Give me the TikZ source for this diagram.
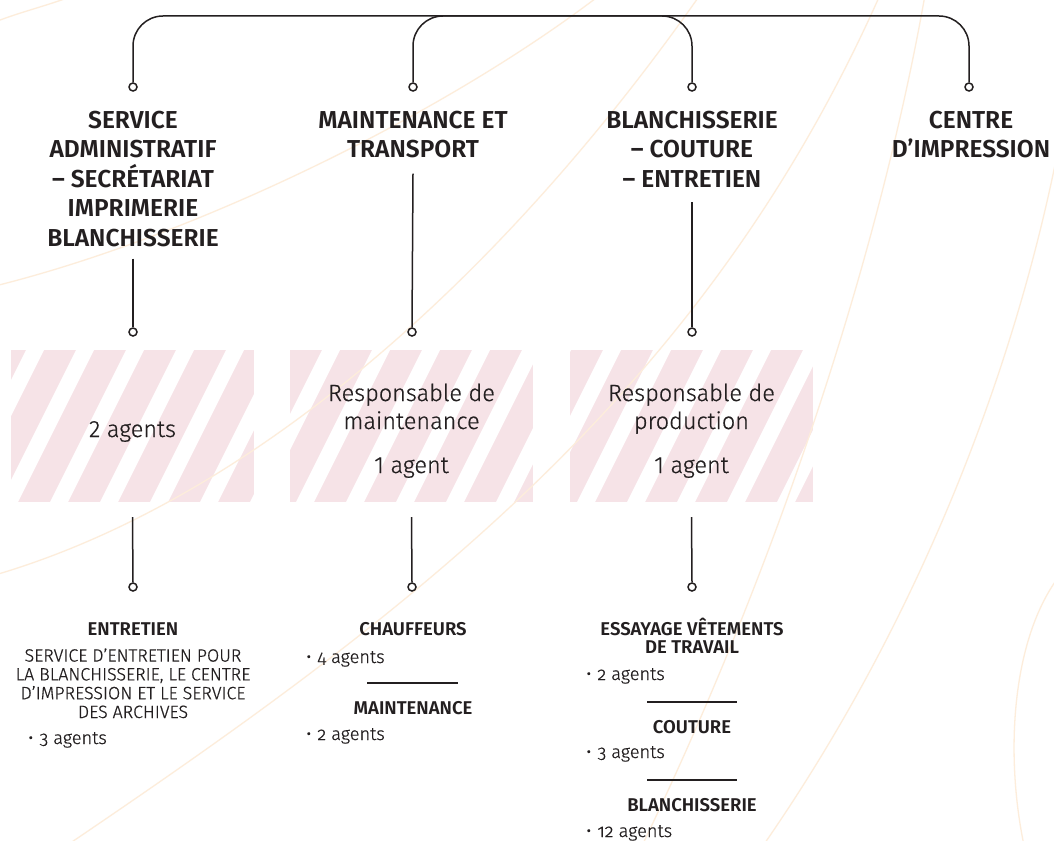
\documentclass[tikz,border=0pt]{standalone}
\usepackage{fontspec}
\setmainfont{Fira Sans}
\newfontfamily\lightf{Fira Sans Light}[FakeBold=0.6]
\newfontfamily\lightold{Fira Sans Light}[Numbers=OldStyle,FakeBold=0.6]
\newfontfamily\semib{Fira Sans SemiBold}
\usetikzlibrary{calc}
\definecolor{ink}{RGB}{35,31,32}
\definecolor{hatchpink}{RGB}{246,227,231}
\definecolor{peach}{RGB}{253,237,219}
\begin{document}
\begin{tikzpicture}[x=1pt,y=-1pt,
  conn/.style={draw=ink, line width=1.5pt},
  dot/.style={circle, draw=ink, fill=white, line width=1.5pt, minimum size=8pt, inner sep=0pt},
  ttl/.style={font=\semib\fontsize{24.5}{29.5}\selectfont, text=ink, align=center, inner sep=0pt, anchor=base},
  hbox/.style={minimum width=243pt, minimum height=152pt, inner sep=0pt, fill=hatchpink,
    path picture={\foreach \k in {-1,...,7}{\fill[white] ([xshift={(#1+\k*50)*1pt}]path picture bounding box.north west) -- ++(18,0) -- ++(-76,152) -- ++(-18,0) -- cycle;}}},
  boxtxt/.style={font=\lightf\fontsize{23.5}{28}\selectfont, text=ink, align=center, inner sep=0pt, anchor=base},
  subhead/.style={font=\semib\fontsize{18.5}{18}\selectfont, text=ink, align=center, inner sep=0pt, anchor=base},
  subbody/.style={font=\lightf\fontsize{17.8}{18.8}\selectfont, text=ink, align=center, inner sep=0pt, anchor=base},
  itm/.style={font=\lightold\fontsize{18.2}{20}\selectfont, text=ink, inner sep=0pt, anchor=base west},
  sep/.style={draw=ink, line width=2.6pt},
  bgline/.style={draw=peach, line width=1.3pt}
]
\useasboundingbox (0,0) rectangle (1054,840);
\fill[white] (0,0) rectangle (1054,840);

% hatched boxes
\node[hbox=15] (b1) at (132.5,426) {};
\node[hbox=32] (b2) at (411.5,426) {};
\node[hbox=33] (b3) at (691.5,426) {};

% faint background curves
\draw[bgline] (-5,22) .. controls (20,12) and (50,5) .. (75,-5);
\draw[bgline] (-5,286) .. controls (200,235) and (450,110) .. (600,-5);
\draw[bgline] (-5,575) .. controls (250,500) and (500,280) .. (700,-5);
\draw[bgline] (60,850) .. controls (400,620) and (700,400) .. (880,-5);
\draw[bgline] (640,850) .. controls (780,560) and (880,250) .. (925,-5);
\draw[bgline] (760,850) .. controls (900,650) and (1010,400) .. (1060,140);
\draw[bgline] (1060,575) .. controls (1010,640) and (1005,760) .. (1025,850);

% circles
\node[dot] (c1t) at (133,87) {};
\node[dot] (c2t) at (413,87) {};
\node[dot] (c3t) at (692,87) {};
\node[dot] (c4t) at (969,87) {};
\node[dot] (c1m) at (133,332) {};
\node[dot] (c2m) at (412,332) {};
\node[dot] (c3m) at (692,332) {};
\node[dot] (c1b) at (133,587) {};
\node[dot] (c2b) at (412,587) {};
\node[dot] (c3b) at (692,587) {};

% top brackets
\coordinate (top) at (0,16);
\draw[conn, rounded corners=30pt] (c1t.north) -- (c1t.north |- top) -- (c4t.north |- top) -- (c4t.north);
\draw[conn, rounded corners=30pt] (c2t.north) -- (c2t.north |- top) -- (c3t.north |- top) -- (c3t.north);

% titles (anchor = baseline of last line)
\node[ttl] (t1) at (133,246) {SERVICE\\ADMINISTRATIF\\– SECRÉTARIAT\\IMPRIMERIE\\BLANCHISSERIE};
\node[ttl] (t2) at (413,157.5) {MAINTENANCE ET\\TRANSPORT};
\node[ttl] (t3) at (692,187) {BLANCHISSERIE\\– COUTURE\\– ENTRETIEN};
\node[ttl] (t4) at (971,157.5) {CENTRE\\D’IMPRESSION};

\draw[conn] ([yshift=-12pt]t1.south) -- (c1m.north);
\draw[conn] ([yshift=-15.5pt]t2.south) -- (c2m.north);
\draw[conn] ([yshift=-15pt]t3.south) -- (c3m.north);

% box texts
\node[boxtxt] (r1) at (132.5,437) {2 agents};
\node[boxtxt] (r2) at (411.5,429) {Responsable de\\maintenance};
\node[boxtxt] (a2) at (411.5,473) {1 agent};
\node[boxtxt] (r3) at (691.5,429) {Responsable de\\production};
\node[boxtxt] (a3) at (691.5,473) {1 agent};

\draw[conn] ([yshift=-15pt]b1.south) -- (c1b.north);
\draw[conn] ([yshift=-15pt]b2.south) -- (c2b.north);
\draw[conn] ([yshift=-15pt]b3.south) -- (c3b.north);

% bottom column 1
\node[subhead] (h1) at (133,635) {ENTRETIEN};
\node[subbody] (d1) at (133,718) {SERVICE D’ENTRETIEN POUR\\LA BLANCHISSERIE, LE CENTRE\\D’IMPRESSION ET LE SERVICE\\DES ARCHIVES};
\node[itm] (i1) at (28,744) {•\hspace{6pt}3 agents};

% bottom column 2
\node[subhead] (h2a) at (413,635) {CHAUFFEURS};
\node[itm] (i2a) at (306,663) {•\hspace{6pt}4 agents};
\draw[sep] (367,683) -- (458,683);
\node[subhead] (h2b) at (413,714) {MAINTENANCE};
\node[itm] (i2b) at (306,740) {•\hspace{6pt}2 agents};

% bottom column 3
\node[subhead] (h3a) at (692,653) {ESSAYAGE VÊTEMENTS\\DE TRAVAIL};
\node[itm] (i3a) at (586,680) {•\hspace{6pt}2 agents};
\draw[sep] (647,702) -- (737,702);
\node[subhead] (h3b) at (692,733) {COUTURE};
\node[itm] (i3b) at (586,758) {•\hspace{6pt}3 agents};
\draw[sep] (647,780) -- (737,780);
\node[subhead] (h3c) at (692,811) {BLANCHISSERIE};
\node[itm] (i3c) at (586,837) {•\hspace{6pt}12 agents};
\end{tikzpicture}
\end{document}
